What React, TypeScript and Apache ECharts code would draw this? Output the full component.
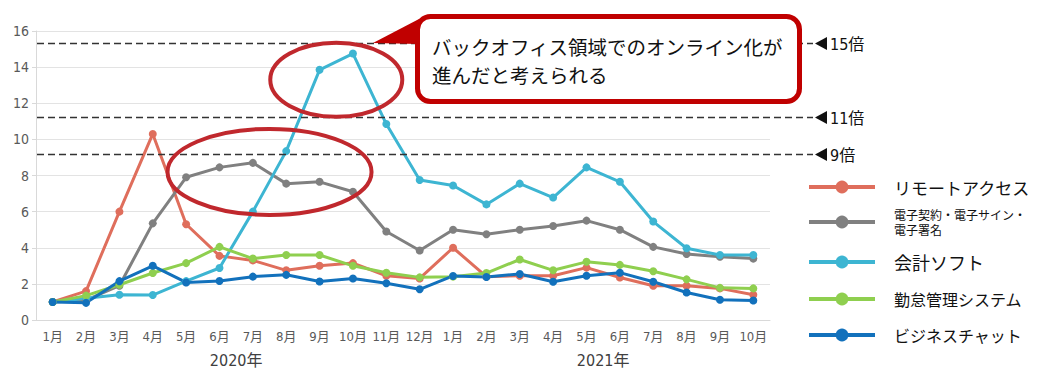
import React, { useEffect, useRef } from 'react';
import * as echarts from 'echarts';

const months = ['1月', '2月', '3月', '4月', '5月', '6月', '7月', '8月', '9月', '10月', '11月', '12月',
  '1月', '2月', '3月', '4月', '5月', '6月', '7月', '8月', '9月', '10月'];
const yearLabels = ['2020年', '2021年'];
const yearCenters = [[5, 6], [16, 17]];

const seriesNames = ['リモートアクセス', '電子契約・電子サイン・電子署名', '会計ソフト', '勤怠管理システム', 'ビジネスチャット'];
const remoteAccess = [1.0, 1.6, 6.0, 10.3, 5.3, 3.55, 3.3, 2.75, 3.0, 3.15, 2.45, 2.3, 4.0, 2.4, 2.45, 2.45, 2.9, 2.35, 1.9, 1.9, 1.75, 1.4];
const eContract = [1.0, 1.1, 1.9, 5.35, 7.9, 8.45, 8.7, 7.55, 7.65, 7.1, 4.9, 3.85, 5.0, 4.75, 5.0, 5.2, 5.5, 5.0, 4.05, 3.65, 3.5, 3.4];
const accounting = [1.0, 1.2, 1.4, 1.38, 2.15, 2.88, 6.0, 9.35, 13.85, 14.75, 10.85, 7.75, 7.45, 6.4, 7.55, 6.78, 8.45, 7.65, 5.45, 3.97, 3.6, 3.6];
const attendance = [1.0, 1.35, 1.95, 2.6, 3.15, 4.05, 3.4, 3.6, 3.6, 3.0, 2.62, 2.36, 2.4, 2.6, 3.35, 2.75, 3.22, 3.05, 2.7, 2.25, 1.78, 1.75];
const bizChat = [1.0, 0.95, 2.15, 3.0, 2.08, 2.16, 2.4, 2.5, 2.13, 2.3, 2.03, 1.7, 2.44, 2.38, 2.55, 2.12, 2.45, 2.62, 2.12, 1.52, 1.12, 1.08];
const seriesData = [remoteAccess, eContract, accounting, attendance, bizChat];
const colors = ['#DF6E5C', '#808080', '#3DB5D2', '#8FCF4F', '#1271BC'];

const refLevels = [15.35, 11.22, 9.18];
const refLabels = ['15倍', '11倍', '9倍'];

const calloutLines = ['バックオフィス領域でのオンライン化が', '進んだと考えられる'];

const numFont = "'Liberation Sans Narrow', 'DejaVu Sans Condensed', 'Noto Sans CJK JP', sans-serif";
const jpFont = "'Noto Sans CJK JP', sans-serif";

const legendRows = [
  { fontSize: 17, lineHeight: 20, center: 187, padTop: 0 },
  { fontSize: 12, lineHeight: 15.5, center: 222, padTop: 11 },
  { fontSize: 18, lineHeight: 21, center: 262, padTop: 0 },
  { fontSize: 16, lineHeight: 19, center: 299, padTop: 0 },
  { fontSize: 16, lineHeight: 19, center: 335, padTop: 0 },
];

export default function App() {
  const ref = useRef<HTMLDivElement>(null);
  useEffect(() => {
    const chart = echarts.init(ref.current!, null, { renderer: 'svg' });
    const itemHeight = 16;
    const legends = seriesNames.map((name, i) => {
      const row = legendRows[i];
      const h = (name.length > 12 ? row.lineHeight * 2 : row.lineHeight) + row.padTop;
      return {
        orient: 'vertical',
        left: 807,
        top: row.center - Math.max(h, itemHeight) / 2,
        padding: 0,
        itemWidth: 66,
        itemHeight,
        selectedMode: false,
        data: [name],
        formatter: (n: string) => (n.length > 12 ? '電子契約・電子サイン・\n電子署名' : n),
        lineStyle: { width: 4 },
        textStyle: {
          fontFamily: jpFont,
          fontSize: row.fontSize,
          lineHeight: row.lineHeight,
          color: '#111',
          padding: [row.padTop, 0, 0, 14],
        },
      };
    });

    chart.setOption({
      animation: false,
      backgroundColor: '#fff',
      grid: { left: 36, right: 270, top: 31, bottom: 55 },
      legend: legends,
      xAxis: {
        type: 'category',
        data: months,
        boundaryGap: true,
        axisLine: { lineStyle: { color: '#D9D9D9', width: 1 } },
        axisTick: { show: false },
        axisLabel: { color: '#595959', fontSize: 13, fontFamily: numFont, margin: 10, interval: 0 },
      },
      yAxis: {
        type: 'value',
        min: 0,
        max: 16,
        interval: 2,
        axisLine: { show: true, lineStyle: { color: '#D9D9D9' } },
        axisTick: { show: true, length: 4, lineStyle: { color: '#D9D9D9' } },
        splitLine: { lineStyle: { color: '#E3E3E3', width: 1 } },
        axisLabel: { color: '#595959', fontSize: 14, fontFamily: numFont, margin: 7 },
      },
      series: seriesNames.map((name, i) => ({
        name,
        type: 'line',
        data: seriesData[i],
        symbol: 'circle',
        symbolSize: 8,
        color: colors[i],
        lineStyle: { width: 3, color: colors[i] },
        itemStyle: { color: colors[i] },
      })),
    });

    const px = (x: number, y: number) => chart.convertToPixel({ xAxisIndex: 0, yAxisIndex: 0 }, [x, y]) as number[];
    const graphics: any[] = [];
    refLevels.forEach((lv, i) => {
      const y = Math.round(px(0, lv)[1]) + 0.5;
      graphics.push({
        type: 'line',
        shape: { x1: 37, y1: y, x2: 813, y2: y },
        style: { stroke: '#333', lineWidth: 1.4, lineDash: [7, 4] },
        z: 10,
      });
      graphics.push({
        type: 'polygon',
        shape: { points: [[815, y], [827, y - 6.5], [827, y + 6.5]] },
        style: { fill: '#111' },
        z: 10,
      });
      graphics.push({
        type: 'text',
        x: 830,
        y: y + 1,
        style: { text: refLabels[i], font: `16px ${numFont}`, fill: '#111', verticalAlign: 'middle', textAlign: 'left' },
        z: 10,
      });
    });
    // ellipses
    const e1a = px(6, 8.2), e1b = px(7, 8.2);
    graphics.push({
      type: 'ellipse',
      shape: { cx: (e1a[0] + e1b[0]) / 2, cy: e1a[1], rx: 102, ry: 43 },
      style: { fill: 'none', stroke: '#C0282D', lineWidth: 4 },
      z: 20,
    });
    const e2a = px(8, 13.3), e2b = px(9, 13.3);
    graphics.push({
      type: 'ellipse',
      shape: { cx: (e2a[0] + e2b[0]) / 2, cy: e2a[1], rx: 66, ry: 37 },
      style: { fill: 'none', stroke: '#C0282D', lineWidth: 4 },
      z: 20,
    });
    // callout
    graphics.push({
      type: 'rect',
      shape: { x: 417.5, y: 16.5, width: 382, height: 85, r: 13 },
      style: { fill: '#fff', stroke: '#C00000', lineWidth: 5 },
      z: 30,
    });
    graphics.push({
      type: 'polygon',
      shape: { points: [[373, 43], [419, 19], [419, 44]] },
      style: { fill: '#C00000' },
      z: 31,
    });
    calloutLines.forEach((t, i) => {
      graphics.push({
        type: 'text',
        x: 432,
        y: 46 + i * 28,
        style: { text: t, font: `19.5px ${jpFont}`, fill: '#111', verticalAlign: 'middle' },
        z: 32,
      });
    });
    // year labels
    yearLabels.forEach((t, i) => {
      const a = px(yearCenters[i][0], 0), b = px(yearCenters[i][1], 0);
      graphics.push({
        type: 'text',
        x: (a[0] + b[0]) / 2,
        y: 360,
        style: { text: t, font: `16px ${numFont}`, fill: '#404040', textAlign: 'center', verticalAlign: 'middle' },
        z: 10,
      });
    });
    chart.setOption({ graphic: graphics });
    return () => chart.dispose();
  }, []);
  return <div ref={ref} style={{ position: 'fixed', left: 0, top: 0, width: 1040, height: 375 }} />;
}
